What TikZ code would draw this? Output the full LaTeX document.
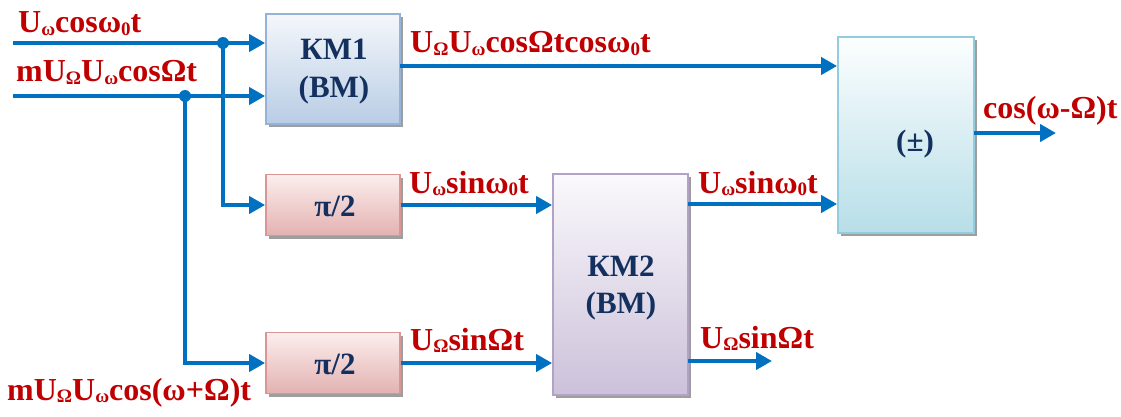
\documentclass[tikz,border=0pt]{standalone}
\usepackage{fontspec}
\setmainfont{Liberation Serif}
\usetikzlibrary{arrows.meta,shadows}
\definecolor{sigred}{HTML}{C00000}
\definecolor{wireblue}{HTML}{0070C0}
\definecolor{navy}{HTML}{14305E}
\definecolor{kmtop}{HTML}{F4F7FB}\definecolor{kmbot}{HTML}{B9CDE5}\definecolor{kmdraw}{HTML}{95B3D7}
\definecolor{pitop}{HTML}{FBEEEE}\definecolor{pibot}{HTML}{E3B2B1}\definecolor{pidraw}{HTML}{D99694}
\definecolor{k2top}{HTML}{FAF9FC}\definecolor{k2bot}{HTML}{CCC1DA}\definecolor{k2draw}{HTML}{B3A2C7}
\definecolor{sutop}{HTML}{FCFEFE}\definecolor{subot}{HTML}{B7DEE8}\definecolor{sudraw}{HTML}{93CDDD}
\newcommand\sbx[1]{\raisebox{-0.08em}{\fontsize{19}{19}\selectfont #1}}
\begin{document}
\begin{tikzpicture}[x=1pt,y=-1pt,
  block/.style={draw, line width=1.8pt, inner sep=0pt,
    drop shadow={shadow xshift=3pt, shadow yshift=-3pt, fill=black!38, opacity=1}},
  kmblock/.style={block, draw=kmdraw, top color=kmtop, bottom color=kmbot},
  piblock/.style={block, draw=pidraw, top color=pitop, bottom color=pibot},
  k2block/.style={block, draw=k2draw, top color=k2top, bottom color=k2bot},
  sublock/.style={block, draw=sudraw, top color=sutop, bottom color=subot},
  btext/.style={inner sep=0pt, anchor=base, text=navy, font=\fontsize{31}{31}\selectfont\bfseries},
  sig/.style={draw=wireblue, line width=4.6pt, -{Triangle[length=16pt,width=17pt]}},
  lbl/.style={anchor=base west, inner sep=0pt, text=sigred, font=\fontsize{32}{32}\selectfont\bfseries},
  dot/.style={circle, fill=wireblue, inner sep=0pt, minimum size=12pt}]
\useasboundingbox (0,0) rectangle (1121,417);
% blocks
\node[kmblock, minimum width=134pt, minimum height=110pt] (KM1) at (333,69) {};
\node[piblock, minimum width=134pt, minimum height=61pt] (PI1) at (333,205) {};
\node[piblock, minimum width=134pt, minimum height=61pt] (PI2) at (333,363) {};
\node[k2block, minimum width=135pt, minimum height=221pt] (KM2) at (620.5,284.5) {};
\node[sublock, minimum width=136pt, minimum height=196pt] (SUM) at (906,135) {};
% block texts
\node[btext] (KM1a) at (334,60) {КМ1};
\node[btext] (KM1b) at (334,98) {(ВМ)};
\node[btext] (PI1t) at (335,216) {π/2};
\node[btext] (PI2t) at (335,374) {π/2};
\node[btext] (KM2a) at (621,276) {КМ2};
\node[btext] (KM2b) at (621,313) {(ВМ)};
\node[btext] (PM) at (915,151) {(±)};
% coordinates
\coordinate (in1) at (13,43);
\coordinate (in2) at (13,96);
\node[dot] (d1) at (223,43) {};
\node[dot] (d2) at (185,96) {};
\coordinate (k1o) at (400,66);
\coordinate (k2a) at (688,204);
\coordinate (k2b) at (688,361);
\coordinate (k2be) at (772,361);
\coordinate (suo) at (974,133);
\coordinate (suoe) at (1056,133);
% connectors
\draw[sig] (in1) -- (in1 -| KM1.west);
\draw[sig] (in2) -- (in2 -| KM1.west);
\draw[sig] (d1.center) |- (PI1.west);
\draw[sig] (d2.center) |- (PI2.west);
\draw[sig] (k1o) -- (k1o -| SUM.west);
\draw[sig] (PI1.east) -- (PI1.east -| KM2.west);
\draw[sig] (PI2.east) -- (PI2.east -| KM2.west);
\draw[sig] (k2a) -- (k2a -| SUM.west);
\draw[sig] (k2b) -- (k2be);
\draw[sig] (suo) -- (suoe);
% labels
\node[lbl] (l1) at (18,33) {U\sbx{ω}cosω\sbx{0}t};
\node[lbl] (l2) at (16,82) {mU\sbx{Ω}U\sbx{ω}cosΩt};
\node[lbl] (l3) at (410,53) {U\sbx{Ω}U\sbx{ω}cosΩtcosω\sbx{0}t};
\node[lbl] (l4) at (983,118) {cos(ω-Ω)t};
\node[lbl] (l5) at (7,400) {mU\sbx{Ω}U\sbx{ω}cos(ω+Ω)t};
\node[lbl] (l6) at (409,193) {U\sbx{ω}sinω\sbx{0}t};
\node[lbl] (l7) at (698,193) {U\sbx{ω}sinω\sbx{0}t};
\node[lbl] (l8) at (410,350) {U\sbx{Ω}sinΩt};
\node[lbl] (l9) at (700,348) {U\sbx{Ω}sinΩt};
\end{tikzpicture}
\end{document}
